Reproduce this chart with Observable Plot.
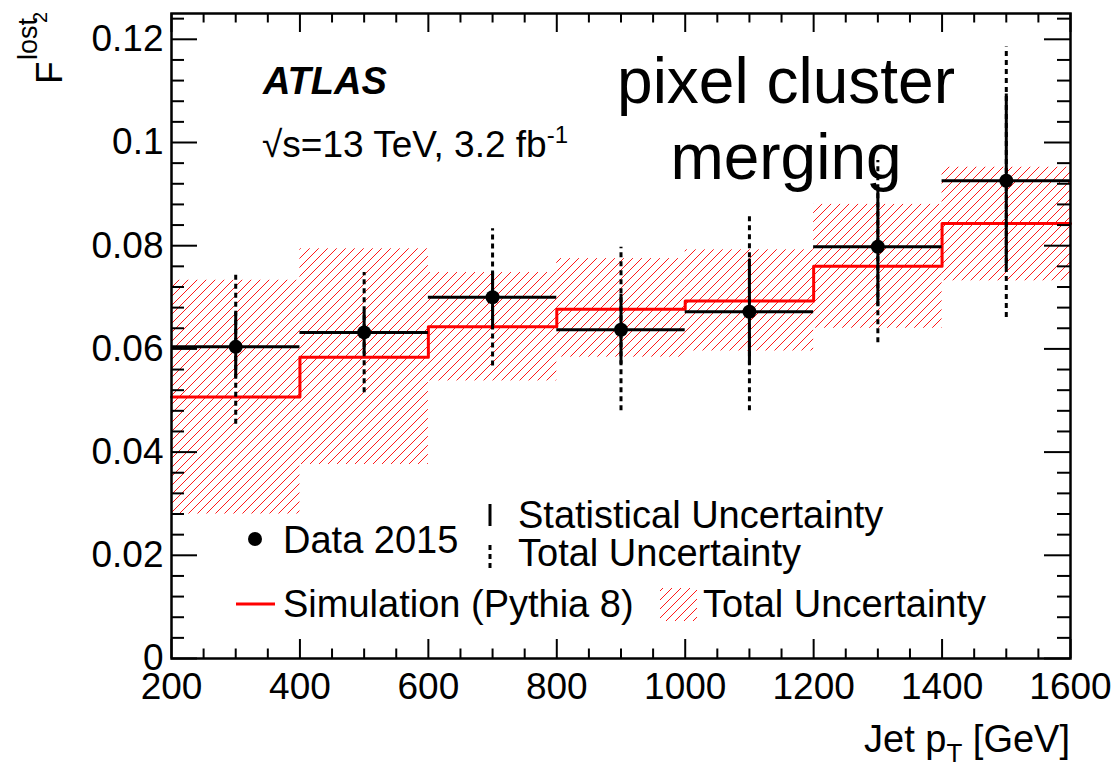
<!DOCTYPE html>
<html><head><meta charset="utf-8">
<script src="https://cdn.jsdelivr.net/npm/d3@7"></script>
<script src="https://cdn.jsdelivr.net/npm/@observablehq/plot@0.6"></script>
<style>body{margin:0;background:#fff}#chart{width:1118px;height:774px}</style>
</head><body><div id="chart"></div>
<script>
// ---- data ----
const binLo   = [200, 400, 600, 800, 1000, 1200, 1400];
const binHi   = [400, 600, 800, 1000, 1200, 1400, 1600];
const binMid  = [300, 500, 700, 900, 1100, 1300, 1500];
const dataVal = [0.0604, 0.0632, 0.0700, 0.0637, 0.0672, 0.0798, 0.0926];
const statLo  = [0.0544, 0.0590, 0.0638, 0.0570, 0.0570, 0.0683, 0.0757];
const statHi  = [0.0670, 0.0673, 0.0748, 0.0706, 0.0774, 0.0910, 0.1094];
const totLo   = [0.0454, 0.0515, 0.0567, 0.0480, 0.0480, 0.0612, 0.0661];
const totHi   = [0.0745, 0.0748, 0.0833, 0.0797, 0.0858, 0.0965, 0.1185];
const mcVal   = [0.0507, 0.0584, 0.0643, 0.0677, 0.0693, 0.0760, 0.0843];
const bandLo  = [0.0280, 0.0376, 0.0538, 0.0584, 0.0596, 0.0640, 0.0732];
const bandHi  = [0.0733, 0.0794, 0.0748, 0.0775, 0.0792, 0.0880, 0.0952];
const xTicks  = [200, 400, 600, 800, 1000, 1200, 1400, 1600];
const yTicks  = [0, 0.02, 0.04, 0.06, 0.08, 0.1, 0.12];
const xMinor  = d3.range(200, 1601, 50).filter(v => v % 200 !== 0);
const yMinor  = d3.range(0, 0.1251, 0.004).filter((v, i) => i % 5 !== 0);

const bins = binLo.map((lo, i) => ({
  lo, hi: binHi[i], c: binMid[i], v: dataVal[i],
  sLo: statLo[i], sHi: statHi[i], tLo: totLo[i], tHi: totHi[i],
  mc: mcVal[i], bLo: bandLo[i], bHi: bandHi[i]
}));
const steps = binLo.map((x, i) => ({x, y: mcVal[i]}))
  .concat([{x: binHi[binHi.length - 1], y: mcVal[mcVal.length - 1]}]);

const W = 1118, H = 774, mL = 171, mR = 48, mT = 13, mB = 116;
const fw = W - mL - mR, fh = H - mT - mB;
const FONT = '"Liberation Sans", Arial, Helvetica, sans-serif';

const svg = Plot.plot({
  width: W, height: H,
  marginLeft: mL, marginRight: mR, marginTop: mT, marginBottom: mB,
  x: {domain: [200, 1600]},
  y: {domain: [0, 0.125]},
  style: {fontFamily: FONT, fontSize: "37px", color: "black", background: "white"},
  marks: [
    Plot.rect(bins, {x1: "lo", x2: "hi", y1: "bLo", y2: "bHi", fill: "url(#hatch)"}),
    Plot.line(steps, {x: "x", y: "y", curve: "step-after", stroke: "#ff0000", strokeWidth: 3}),
    Plot.ruleX(bins, {x: "c", y1: "tLo", y2: "tHi", stroke: "black", strokeWidth: 3, strokeDasharray: "5,4"}),
    Plot.ruleX(bins, {x: "c", y1: "sLo", y2: "sHi", stroke: "black", strokeWidth: 3}),
    Plot.ruleY(bins, {y: "v", x1: "lo", x2: "hi", stroke: "black", strokeWidth: 3}),
    Plot.dot(bins, {x: "c", y: "v", r: 7, fill: "black", stroke: "none"}),
    // inward ticks, ROOT style
    Plot.ruleX(xTicks, {insetTop: fh - 19, strokeWidth: 2}),
    Plot.ruleX(xTicks, {insetBottom: fh - 19, strokeWidth: 2}),
    Plot.ruleX(xMinor, {insetTop: fh - 9.5, strokeWidth: 2}),
    Plot.ruleX(xMinor, {insetBottom: fh - 9.5, strokeWidth: 2}),
    Plot.ruleY(yTicks, {insetRight: fw - 26, strokeWidth: 2}),
    Plot.ruleY(yTicks, {insetLeft: fw - 26, strokeWidth: 2}),
    Plot.ruleY(yMinor, {insetRight: fw - 13, strokeWidth: 2}),
    Plot.ruleY(yMinor, {insetLeft: fw - 13, strokeWidth: 2}),
    Plot.axisX(xTicks, {tickSize: 0, tickPadding: 14, label: null, tickFormat: d => String(d)}),
    Plot.axisY(yTicks, {tickSize: 0, tickPadding: 8, label: null, tickFormat: d => String(d)}),
    Plot.frame({stroke: "black", strokeWidth: 2.5})
  ]
});

const s = d3.select(svg);
const defs = s.insert("defs", ":first-child");
const pat = defs.append("pattern").attr("id", "hatch")
  .attr("patternUnits", "userSpaceOnUse").attr("width", 9).attr("height", 9);
pat.append("path").attr("d", "M0,9 L9,0 M-2,2 L2,-2 M7,11 L11,7")
  .attr("stroke", "#ff0000").attr("stroke-width", 0.9).attr("fill", "none");

const g = s.append("g").attr("font-family", FONT).attr("fill", "black")
  .attr("text-anchor", "start").style("text-anchor", "start");
function txt(x, y, str, size, opts = {}) {
  const t = g.append("text").attr("x", x).attr("y", y).attr("font-size", size)
    .attr("text-anchor", "start").text(str);
  for (const k in opts) t.attr(k, opts[k]);
  return t;
}

// y-axis title F^{lost_2}
const yl = g.append("g").attr("transform", "translate(62,84) rotate(-90)");
yl.append("text").attr("x", 0).attr("y", 0).attr("font-size", 37).attr("text-anchor", "start").text("F");
yl.append("text").attr("x", 24).attr("y", -25).attr("font-size", 27).attr("text-anchor", "start").text("lost");
yl.append("text").attr("x", 61).attr("y", -15).attr("font-size", 20).attr("text-anchor", "start").text("2");

// x-axis title
const xl = g.append("text").attr("x", 1070).attr("y", 752).attr("font-size", 38).attr("text-anchor", "end");
xl.append("tspan").text("Jet p");
xl.append("tspan").attr("font-size", 26).attr("dy", 10).text("T");
xl.append("tspan").attr("dy", -10).text("\u00a0[GeV]");

// ATLAS labels
txt(263, 94, "ATLAS", 38, {"font-weight": "bold", "font-style": "italic"});
const en = txt(262, 157, "√s=13 TeV, 3.2 fb", 37);
en.append("tspan").attr("font-size", 24).attr("dy", -14).text("-1");

// pixel cluster merging
txt(786, 103, "pixel cluster", 64, {"text-anchor": "middle"});
txt(786, 179, "merging", 64, {"text-anchor": "middle"});

// legend
g.append("circle").attr("cx", 255).attr("cy", 539).attr("r", 7).attr("fill", "black");
txt(283, 553, "Data 2015", 38);
g.append("line").attr("x1", 490).attr("x2", 490).attr("y1", 504).attr("y2", 526)
  .attr("stroke", "black").attr("stroke-width", 3);
g.append("line").attr("x1", 490).attr("x2", 490).attr("y1", 545).attr("y2", 572)
  .attr("stroke", "black").attr("stroke-width", 3).attr("stroke-dasharray", "5,4");
txt(518, 528, "Statistical Uncertainty", 38);
txt(518, 566, "Total Uncertainty", 38);
g.append("line").attr("x1", 236).attr("x2", 275).attr("y1", 604).attr("y2", 604)
  .attr("stroke", "#ff0000").attr("stroke-width", 3);
txt(283, 617, "Simulation (Pythia 8)", 38);
g.append("rect").attr("x", 660).attr("y", 588).attr("width", 37).attr("height", 33)
  .attr("fill", "url(#hatch)");
txt(703, 617, "Total Uncertainty", 38);

document.getElementById("chart").appendChild(svg);
</script></body></html>
